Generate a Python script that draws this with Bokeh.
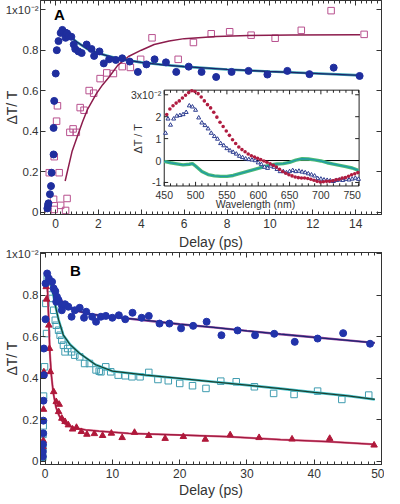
import math
import numpy as np
from bokeh.plotting import figure
from bokeh.layouts import column
from bokeh.models import Range1d, LinearAxis, FixedTicker, Label
from bokeh.core.properties import value
from bokeh.embed import file_html
from bokeh.resources import INLINE

FONT = "Liberation Sans"
TXT = "#333333"

# ---------------- Panel A data (units of 1e-2) ----------------
a_dots_x = [-0.38, -0.35, -0.33, -0.26, -0.21, -0.18, -0.09, -0.09, -0.06, 0.01,
            0.06, 0.14, 0.24, 0.32, 0.47, 0.47, 0.54, 0.62, 0.74, 0.85,
            0.92, 1.07, 1.22, 1.45, 1.68, 1.80, 2.05, 2.25, 2.50, 2.81,
            3.11, 3.46, 3.84, 4.24, 4.62, 5.15, 5.63, 6.21, 6.81, 7.49,
            8.21, 9.00, 9.88, 10.81, 11.84, 12.97, 14.18]
a_dots_y = [0.02, 0.035, 0.045, 0.09, 0.13, 0.196, 0.286, 0.417, 0.55, 0.685,
            0.80, 0.845, 0.885, 0.90, 0.886, 0.861, 0.883, 0.87, 0.866, 0.828,
            0.806, 0.794, 0.786, 0.828, 0.806, 0.772, 0.794, 0.735, 0.755, 0.752,
            0.76, 0.744, 0.693, 0.73, 0.755, 0.74, 0.693, 0.719, 0.693, 0.668,
            0.693, 0.698, 0.68, 0.698, 0.682, 0.714, 0.673]
a_sq_x = [-0.36, -0.29, -0.09, -0.06, -0.06, 0.05, 0.09, 0.17, 0.24, 0.47,
          0.54, 0.67, 0.82, 0.97, 1.15, 1.33, 1.57, 1.78, 2.08, 2.39,
          2.70, 3.11, 3.49, 3.97, 4.50, 5.72, 6.43, 7.26, 8.12, 9.12,
          10.24, 11.46, 12.85, 14.39]
a_sq_y = [0.005, 0.196, 0.065, 0.015, 0.275, 0.45, 0.526, 0.196, 0.035, 0.01,
          0.069, 0.395, 0.412, 0.395, 0.517, 0.504, 0.601, 0.588, 0.66, 0.688,
          0.685, 0.719, 0.715, 0.755, 0.861, 0.755, 0.838, 0.881, 0.891, 0.874,
          0.859, 0.898, 0.995, 0.878]
a_sqfit_x = [0.45, 0.77, 1.0, 1.27, 1.5, 1.9, 2.2, 2.5, 2.9, 3.4, 4.0, 4.6, 5.3, 6.0, 7.5, 9.0, 11.0, 14.2]
a_sqfit_y = [0.155, 0.30, 0.37, 0.45, 0.51, 0.585, 0.63, 0.668, 0.725, 0.769, 0.80, 0.828, 0.845, 0.857, 0.868, 0.873, 0.875, 0.876]
a_dotfit_x = [0.25, 0.5, 0.75, 1.0, 1.5, 2.0, 2.5, 3.0, 3.5, 4.0, 5.0, 6.0, 8.0, 10.0, 12.0, 14.2]
a_dotfit_y = [0.895, 0.88, 0.86, 0.84, 0.805, 0.785, 0.77, 0.757, 0.748, 0.74, 0.728, 0.719, 0.705, 0.695, 0.686, 0.676]

a_xticks = [0, 2, 4, 6, 8, 10, 12, 14]
a_xtick_labels = ["0", "2", "4", "6", "8", "10", "12", "14"]
a_yticks = [0, 0.2, 0.4, 0.6, 0.8, 1]
a_ytick_labels = ["0", "0.2", "0.4", "0.6", "0.8", "1x10\u207b\u00b2"]

# ---------------- Inset data ----------------
in_red_x = [454, 459, 464, 469, 474, 479, 484, 489, 494, 499, 504, 509, 514, 519, 524, 529, 534, 539, 544, 549,
            554, 559, 564, 569, 574, 579, 584, 589, 594, 599, 604, 609, 614, 619, 624, 629, 634, 639, 644, 649,
            654, 659, 664, 669, 674, 679, 684, 689, 694, 699, 704, 709, 714, 719, 724, 729, 734, 739, 744, 749,
            754, 759]
in_red_y = [2.1, 2.35, 2.5, 2.62, 2.72, 2.85, 2.98, 3.1, 3.18, 3.15, 3.05, 2.9, 2.72, 2.55, 2.4, 2.2, 1.98, 1.75, 1.55, 1.35,
            1.15, 0.95, 0.78, 0.62, 0.5, 0.4, 0.3, 0.22, 0.16, 0.1, 0.04, -0.02, -0.08, -0.15, -0.22, -0.3, -0.4, -0.5, -0.58, -0.65,
            -0.7, -0.75, -0.78, -0.8, -0.8, -0.82, -0.85, -0.9, -0.95, -0.98, -0.97, -0.95, -0.95, -0.92, -0.88, -0.85, -0.8, -0.78, -0.72, -0.65,
            -0.6, -0.55]
in_tri_x = [452, 456, 460, 465, 470, 475, 480, 485, 490, 495, 500, 505, 510, 515, 520, 525, 530, 535, 540, 545,
            550, 555, 560, 565, 570, 575, 580, 585, 590, 595, 600, 605, 610, 615, 620, 625, 630, 635, 640, 645,
            650, 655, 660, 665, 670, 675, 680, 685, 690, 695, 700, 705, 710, 715, 720, 725, 730, 735, 740, 745,
            750, 755, 760]
in_tri_y = [1.25, 1.9, 1.62, 1.9, 2.03, 2.06, 2.1, 2.2, 2.5, 2.45, 2.3, 1.95, 1.72, 1.6, 1.45, 1.25, 1.1, 0.98, 0.78, 0.68,
            0.55, 0.45, 0.38, 0.3, 0.2, 0.14, 0.08, 0.05, 0.03, 0.0, -0.1, -0.18, -0.3, -0.35, -0.25, -0.3, -0.4, -0.5, -0.5, -0.55,
            -0.5, -0.45, -0.5, -0.48, -0.52, -0.55, -0.6, -0.65, -0.7, -0.82, -0.84, -0.88, -0.9, -0.92, -0.95, -0.9, -0.88, -0.9, -0.85, -0.88,
            -0.84, -0.8, -0.85]
in_grn_x = [450, 460, 470, 480, 490, 495, 500, 510, 520, 530, 540, 550, 560, 570, 580, 590, 600,
            610, 620, 630, 640, 650, 660, 670, 680, 690, 700, 710, 720, 730, 740, 750, 760]
in_grn_y = [-0.04, -0.1, -0.15, -0.2, -0.17, -0.14, -0.25, -0.5, -0.64, -0.7, -0.72, -0.72, -0.68, -0.6, -0.52, -0.44, -0.36,
            -0.28, -0.2, -0.16, -0.14, -0.08, 0.02, 0.08, 0.07, 0.03, -0.02, -0.1, -0.16, -0.22, -0.28, -0.34, -0.45]
in_xticks = [450, 500, 550, 600, 650, 700, 750]
in_xtick_labels = ["450", "500", "550", "600", "650", "700", "750"]
in_yticks = [-1, 0, 1, 2, 3]
in_ytick_labels = ["-1", "0", "1", "2", "3x10\u207b\u00b2"]

# ---------------- Panel B data ----------------
b_dots_x = [-0.36, -0.35, -0.33, -0.30, -0.28, -0.26, -0.20, -0.20, 0.05, 0.05, 0.29, 0.54, 1.02, 1.26, 1.50, 1.64, 1.74, 1.99,
            2.47, 2.47, 2.95, 3.44, 3.92, 4.40, 5.13, 5.77, 6.10, 6.98, 7.56, 8.28, 9.01, 9.98, 10.95, 11.90, 12.98,
            14.34, 15.40, 17.00, 18.46, 20.20, 22.00, 24.00, 26.20, 28.60, 31.20, 34.05, 37.10, 40.50, 44.30, 48.30]
b_dots_y = [0.023, 0.046, 0.082, 0.135, 0.196, 0.292, 0.415, 0.543, 0.684, 0.856, 0.904, 0.88, 0.864, 0.832, 0.819, 0.768, 0.792, 0.776,
            0.751, 0.727, 0.756, 0.744, 0.696, 0.727, 0.739, 0.691, 0.72, 0.696, 0.672, 0.696, 0.70, 0.691, 0.703, 0.684, 0.715,
            0.691, 0.70, 0.663, 0.663, 0.64, 0.652, 0.672, 0.607, 0.63, 0.607, 0.614, 0.575, 0.591, 0.617, 0.566]
b_dotfit_x = [0.2, 0.5, 1.0, 1.5, 2.0, 3.0, 4.0, 5.0, 7.0, 10.0, 15.0, 20.0, 25.0, 30.0, 35.0, 40.0, 45.0, 49.0]
b_dotfit_y = [0.90, 0.88, 0.845, 0.81, 0.785, 0.755, 0.735, 0.722, 0.707, 0.695, 0.678, 0.66, 0.645, 0.628, 0.612, 0.597, 0.582, 0.57]

b_sq_x = [-0.36, -0.34, -0.33, -0.30, -0.25, -0.10, 0.10, 0.20, 0.30, 0.77, 1.02, 1.26, 1.50, 1.64, 1.99, 2.22, 2.47, 2.71, 2.95,
          3.34, 3.92, 4.40, 5.13, 5.86, 6.58, 7.56, 8.03, 8.28, 9.00, 9.74, 10.85, 11.90, 12.90, 14.10, 15.40, 16.76, 18.30,
          20.00, 21.90, 23.90, 26.10, 28.40, 31.10, 33.96, 37.00, 40.50, 44.10, 48.10]
b_sq_y = [0.02, 0.066, 0.13, 0.171, 0.314, 0.455, 0.76, 0.615, 0.88, 0.832, 0.784, 0.727, 0.679, 0.655, 0.631, 0.607, 0.583, 0.559, 0.527,
          0.543, 0.527, 0.511, 0.503, 0.471, 0.471, 0.44, 0.434, 0.431, 0.455, 0.431, 0.415, 0.412, 0.407, 0.407, 0.428, 0.394, 0.388,
          0.375, 0.364, 0.351, 0.386, 0.383, 0.359, 0.327, 0.322, 0.338, 0.298, 0.319]
b_sqfit_x = [0.3, 0.55, 1.0, 1.5, 2.0, 2.7, 3.7, 5.1, 7.5, 10, 15, 20, 25, 30, 35, 40, 45, 49]
b_sqfit_y = [0.885, 0.88, 0.835, 0.75, 0.68, 0.607, 0.562, 0.52, 0.465, 0.434, 0.415, 0.399, 0.383, 0.367, 0.35, 0.332, 0.315, 0.298]

b_tri_x = [-0.35, -0.32, -0.28, -0.25, -0.20, 0.15, 0.20, 0.54, 0.63, 0.77, 1.26, 1.64, 1.99, 2.08, 2.47, 2.95, 3.44, 4.07, 4.65,
           5.38, 6.20, 7.31, 8.53, 9.84, 11.44, 13.28, 15.40, 17.83, 20.54, 23.80, 27.50, 31.80, 36.70, 42.30, 48.90]
b_tri_y = [0.03, 0.07, 0.10, 0.25, 0.43, 0.84, 0.78, 0.655, 0.543, 0.431, 0.335, 0.287, 0.239, 0.274, 0.207, 0.191, 0.175, 0.155, 0.163,
           0.143, 0.13, 0.133, 0.124, 0.135, 0.114, 0.139, 0.124, 0.11, 0.119, 0.106, 0.127, 0.114, 0.107, 0.11, 0.078]
b_trifit_x = [0.3, 0.5, 0.7, 0.9, 1.2, 1.6, 2.0, 2.5, 3.0, 4.2, 6.0, 8.0, 12.4, 20, 27, 35, 42, 49]
b_trifit_y = [0.86, 0.70, 0.52, 0.42, 0.33, 0.26, 0.225, 0.195, 0.18, 0.162, 0.152, 0.146, 0.135, 0.127, 0.119, 0.105, 0.095, 0.082]

b_xticks = [0, 10, 20, 30, 40, 50]
b_xtick_labels = ["0", "10", "20", "30", "40", "50"]
b_yticks = [0, 0.2, 0.4, 0.6, 0.8, 1]
b_ytick_labels = ["0", "0.2", "0.4", "0.6", "0.8", "1x10\u207b\u00b2"]

X_LABEL = "Delay (ps)"
Y_LABEL = "\u0394T/ T"


def style(p, xticks, xlabels, xminor, yticks, ylabels, bottom_label, top_label):
    p.xgrid.visible = False
    p.ygrid.visible = False
    p.outline_line_color = "#333333"
    p.outline_line_width = 1
    p.background_fill_color = "white"
    p.border_fill_color = "white"
    xa = p.xaxis[0]
    xa.ticker = FixedTicker(ticks=xticks, minor_ticks=xminor)
    xa.major_label_overrides = dict(zip(xticks, xlabels))
    ya = p.yaxis[0]
    ya.ticker = FixedTicker(ticks=yticks, minor_ticks=[])
    ya.major_label_overrides = dict(zip(yticks, ylabels))
    for ax in (xa, ya):
        ax.major_tick_in = 5
        ax.major_tick_out = 0
        ax.minor_tick_in = 3
        ax.minor_tick_out = 0
        ax.axis_line_color = "#333333"
        ax.major_tick_line_color = "#333333"
        ax.minor_tick_line_color = "#333333"
        ax.major_label_text_font = FONT
        ax.major_label_text_color = TXT
        ax.axis_label_text_font = FONT
        ax.axis_label_text_font_size = "14px"
        ax.axis_label_text_font_style = "normal"
        ax.axis_label_text_color = TXT
    xa.major_label_text_font_size = "12px"
    ya.major_label_text_font_size = "11.5px"
    xa.major_label_standoff = 4
    ya.major_label_standoff = 2
    if bottom_label:
        xa.axis_label = bottom_label
        xa.axis_label_standoff = 1
    ya.axis_label = Y_LABEL
    ya.axis_label_standoff = -17
    top = LinearAxis(ticker=FixedTicker(ticks=xticks, minor_ticks=xminor),
                     major_label_text_font_size="1px", major_label_text_color=None,
                     major_label_standoff=0,
                     major_tick_in=5, major_tick_out=0, minor_tick_in=3, minor_tick_out=0,
                     axis_line_color="#333333", major_tick_line_color="#333333",
                     minor_tick_line_color="#333333")
    if top_label:
        top.axis_label = top_label
        top.axis_label_standoff = 3
        top.axis_label_text_font = FONT
        top.axis_label_text_font_size = "14px"
        top.axis_label_text_font_style = "normal"
        top.axis_label_text_color = TXT
    p.add_layout(top, "above")
    right = LinearAxis(ticker=FixedTicker(ticks=yticks, minor_ticks=[]),
                       major_label_text_font_size="1px", major_label_text_color=None,
                       major_label_standoff=0,
                       major_tick_in=5, major_tick_out=0, minor_tick_in=0, minor_tick_out=0,
                       axis_line_color="#333333", major_tick_line_color="#333333")
    p.add_layout(right, "right")


# ---------------- Panel A ----------------
AX0, AX1, AY0, AY1 = -0.7, 15.2, -0.01, 1.045
# inset placement as fractions of panel A frame
FX0, FX1, FY0, FY1 = 0.3629, 0.9343, 0.1333, 0.581
IX0, IX1, IY0, IY1 = 450.0, 761.0, -1.16, 3.21
sx = (IX1 - IX0) / (FX1 - FX0)
ix_start = IX0 - FX0 * sx
sy = (IY1 - IY0) / (FY1 - FY0)
iy_start = IY0 - FY0 * sy

pA = figure(width=384, height=230, x_range=Range1d(AX0, AX1), y_range=Range1d(AY0, AY1),
            extra_x_ranges={"ix": Range1d(ix_start, ix_start + sx)},
            extra_y_ranges={"iy": Range1d(iy_start, iy_start + sy)},
            output_backend="svg", toolbar_location=None,
            min_border_left=30, min_border_right=3, min_border_top=0, min_border_bottom=0)
style(pA, a_xticks, a_xtick_labels, [float(v) for v in np.arange(-0.5, 15.01, 0.25)],
      a_yticks, a_ytick_labels, None, None)

pA.scatter(a_sq_x, a_sq_y, marker="square", size=6.5, fill_color=None, line_color="#b8508e", line_width=1)
pA.line(a_sqfit_x, a_sqfit_y, line_color="#8c1c4c", line_width=1.5)
pA.line(a_dotfit_x, a_dotfit_y, line_color="#35a0b4", line_width=2.6)
pA.line(a_dotfit_x, a_dotfit_y, line_color="#1c2468", line_width=1.3)
pA.scatter(a_dots_x, a_dots_y, marker="circle", size=7, fill_color="#1f2e9e", line_color="#1f2e9e")
pA.add_layout(Label(x=0.18, y=0.975, text="A", text_font=FONT, text_font_style="bold",
                    text_font_size="15px", text_align="center", text_baseline="middle", text_color="black"))

# ---- inset (drawn on extra ranges) ----
FW, FH = 347.0, 206.0
px_nm = (FX1 - FX0) * FW / (IX1 - IX0)
px_unit = (FY1 - FY0) * FH / (IY1 - IY0)
kw = dict(x_range_name="ix", y_range_name="iy")
pA.quad(left=IX0, right=IX1, bottom=IY0, top=IY1, fill_color="white", line_color="#222222", line_width=1, **kw)
# ticks
maj_y = 4 / px_unit
min_y = 2.5 / px_unit
xminor_in = [v for v in range(460, 761, 10) if v % 50 != 0]
pA.segment(x0=in_xticks, y0=[IY0] * len(in_xticks), x1=in_xticks, y1=[IY0 + maj_y] * len(in_xticks), line_color="#222222", **kw)
pA.segment(x0=in_xticks, y0=[IY1] * len(in_xticks), x1=in_xticks, y1=[IY1 - maj_y] * len(in_xticks), line_color="#222222", **kw)
pA.segment(x0=xminor_in, y0=[IY0] * len(xminor_in), x1=xminor_in, y1=[IY0 + min_y] * len(xminor_in), line_color="#222222", **kw)
pA.segment(x0=xminor_in, y0=[IY1] * len(xminor_in), x1=xminor_in, y1=[IY1 - min_y] * len(xminor_in), line_color="#222222", **kw)
maj_x = 4 / px_nm
pA.segment(x0=[IX0] * 5, y0=in_yticks, x1=[IX0 + maj_x] * 5, y1=in_yticks, line_color="#222222", **kw)
pA.segment(x0=[IX1] * 5, y0=in_yticks, x1=[IX1 - maj_x] * 5, y1=in_yticks, line_color="#222222", **kw)
# tick labels
pA.text(x=in_xticks, y=[IY0 - 8.5 / px_unit] * len(in_xticks), text=in_xtick_labels,
        text_font=value(FONT), text_font_size="10.5px", text_color=TXT,
        text_align="center", text_baseline="middle", **kw)
pA.text(x=[IX0 - 3 / px_nm] * 5, y=in_yticks, text=in_ytick_labels,
        text_font=value(FONT), text_font_size="10.5px", text_color=TXT,
        text_align="right", text_baseline="middle", **kw)
pA.text(x=[(IX0 + IX1) / 2 - 10], y=[IY0 - 17.5 / px_unit], text=["Wavelength (nm)"],
        text_font=value(FONT), text_font_size="10.5px", text_color=TXT,
        text_align="center", text_baseline="middle", **kw)
pA.text(x=[IX0 - 27 / px_nm], y=[1.0], text=["\u0394T / T"], angle=math.pi / 2,
        text_font=value(FONT), text_font_size="11px", text_color=TXT,
        text_align="center", text_baseline="middle", **kw)
# inset data
pA.segment(x0=[IX0], y0=[0], x1=[IX1], y1=[0], line_color="black", line_width=1, **kw)
pA.line(in_grn_x, in_grn_y, line_color="#4cbb74", line_width=3.4, **kw)
pA.line(in_grn_x, in_grn_y, line_color="#1f9aa8", line_width=1.4, **kw)
pA.scatter(in_tri_x, in_tri_y, marker="triangle", size=4, fill_color="white", line_color="#2c3c90", line_width=1, **kw)
pA.scatter(in_red_x, in_red_y, marker="circle", size=3.6, fill_color="#b01c40", line_color=None, **kw)

# ---------------- Panel B ----------------
# panel A's "Delay (ps)" label is carried by panel B's top axis (it sits between the two frames)
pB = figure(width=384, height=270, x_range=Range1d(-0.7, 50.0), y_range=Range1d(-0.015, 1.005),
            output_backend="svg", toolbar_location=None,
            min_border_left=30, min_border_right=3, min_border_top=0, min_border_bottom=0)
style(pB, b_xticks, b_xtick_labels, list(range(0, 51)), b_yticks, b_ytick_labels, X_LABEL, X_LABEL)

pB.line(b_dotfit_x, b_dotfit_y, line_color="#9a4aa0", line_width=2.4)
pB.line(b_dotfit_x, b_dotfit_y, line_color="#1c2470", line_width=1.2)
pB.scatter(b_sq_x, b_sq_y, marker="square", size=6.5, fill_color=None, line_color="#3f9cb0", line_width=1)
pB.line(b_sqfit_x, b_sqfit_y, line_color="#46c4cc", line_width=2.6)
pB.line(b_sqfit_x, b_sqfit_y, line_color="#1d3f30", line_width=1.2)
pB.line(b_trifit_x, b_trifit_y, line_color="#e07090", line_width=2.2)
pB.line(b_trifit_x, b_trifit_y, line_color="#a01a40", line_width=1.3)
pB.scatter(b_tri_x, b_tri_y, marker="triangle", size=6.5, fill_color="#b0183a", line_color="#b0183a")
pB.scatter(b_dots_x, b_dots_y, marker="circle", size=7, fill_color="#2233aa", line_color="#2233aa")
pB.add_layout(Label(x=4.5, y=0.918, text="B", text_font=FONT, text_font_style="bold",
                    text_font_size="15px", text_align="center", text_baseline="middle", text_color="black"))

layout = column(pA, pB, spacing=0)
open("out.html", "w").write(file_html(layout, INLINE))
